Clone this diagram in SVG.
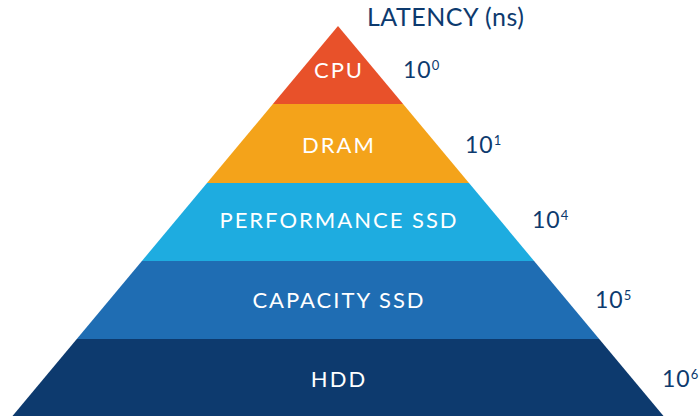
<svg xmlns="http://www.w3.org/2000/svg" width="700" height="420" viewBox="0 0 700 420">
<style>
.lbl{font-family:Lato,"Open Sans","Liberation Sans",sans-serif;font-size:22px;letter-spacing:2px;fill:#ffffff;text-anchor:middle}
.lat{font-family:Lato,"Open Sans","Liberation Sans",sans-serif;font-size:23px;letter-spacing:1px;fill:#0d3a6e}
.sup{font-size:13px;letter-spacing:0}
</style>
<rect width="700" height="420" fill="#ffffff"/>
<g id="cpu">
<polygon points="338,26 403.1,104 272.9,104" fill="#e8512a"/>
<text class="lbl" x="339" y="78">CPU</text>
<text class="lat" x="403" y="78">10<tspan class="sup" dy="-8">0</tspan></text>
</g>
<g id="dram">
<polygon points="272.9,104 403.1,104 469,183 207,183" fill="#f4a31a"/>
<text class="lbl" x="339" y="153">DRAM</text>
<text class="lat" x="465" y="153">10<tspan class="sup" dy="-8">1</tspan></text>
</g>
<g id="perf">
<polygon points="207,183 469,183 534.1,261 141.9,261" fill="#1eace0"/>
<text class="lbl" x="339" y="228">PERFORMANCE SSD</text>
<text class="lat" x="532" y="228">10<tspan class="sup" dy="-8">4</tspan></text>
</g>
<g id="cap">
<polygon points="141.9,261 534.1,261 599.2,339 76.8,339" fill="#1f6db3"/>
<text class="lbl" x="339" y="308">CAPACITY SSD</text>
<text class="lat" x="595" y="308">10<tspan class="sup" dy="-8">5</tspan></text>
</g>
<g id="hdd">
<polygon points="76.8,339 599.2,339 663.5,416 12.5,416" fill="#0d3a6e"/>
<text class="lbl" x="339" y="387">HDD</text>
<text class="lat" x="662" y="387">10<tspan class="sup" dy="-8">6</tspan></text>
</g>
<g id="title">
<text class="lat" x="367" y="26" style="font-size:25px;letter-spacing:0.5px">LATENCY (ns)</text>
</g>
<g id="connectors"></g>
</svg>
